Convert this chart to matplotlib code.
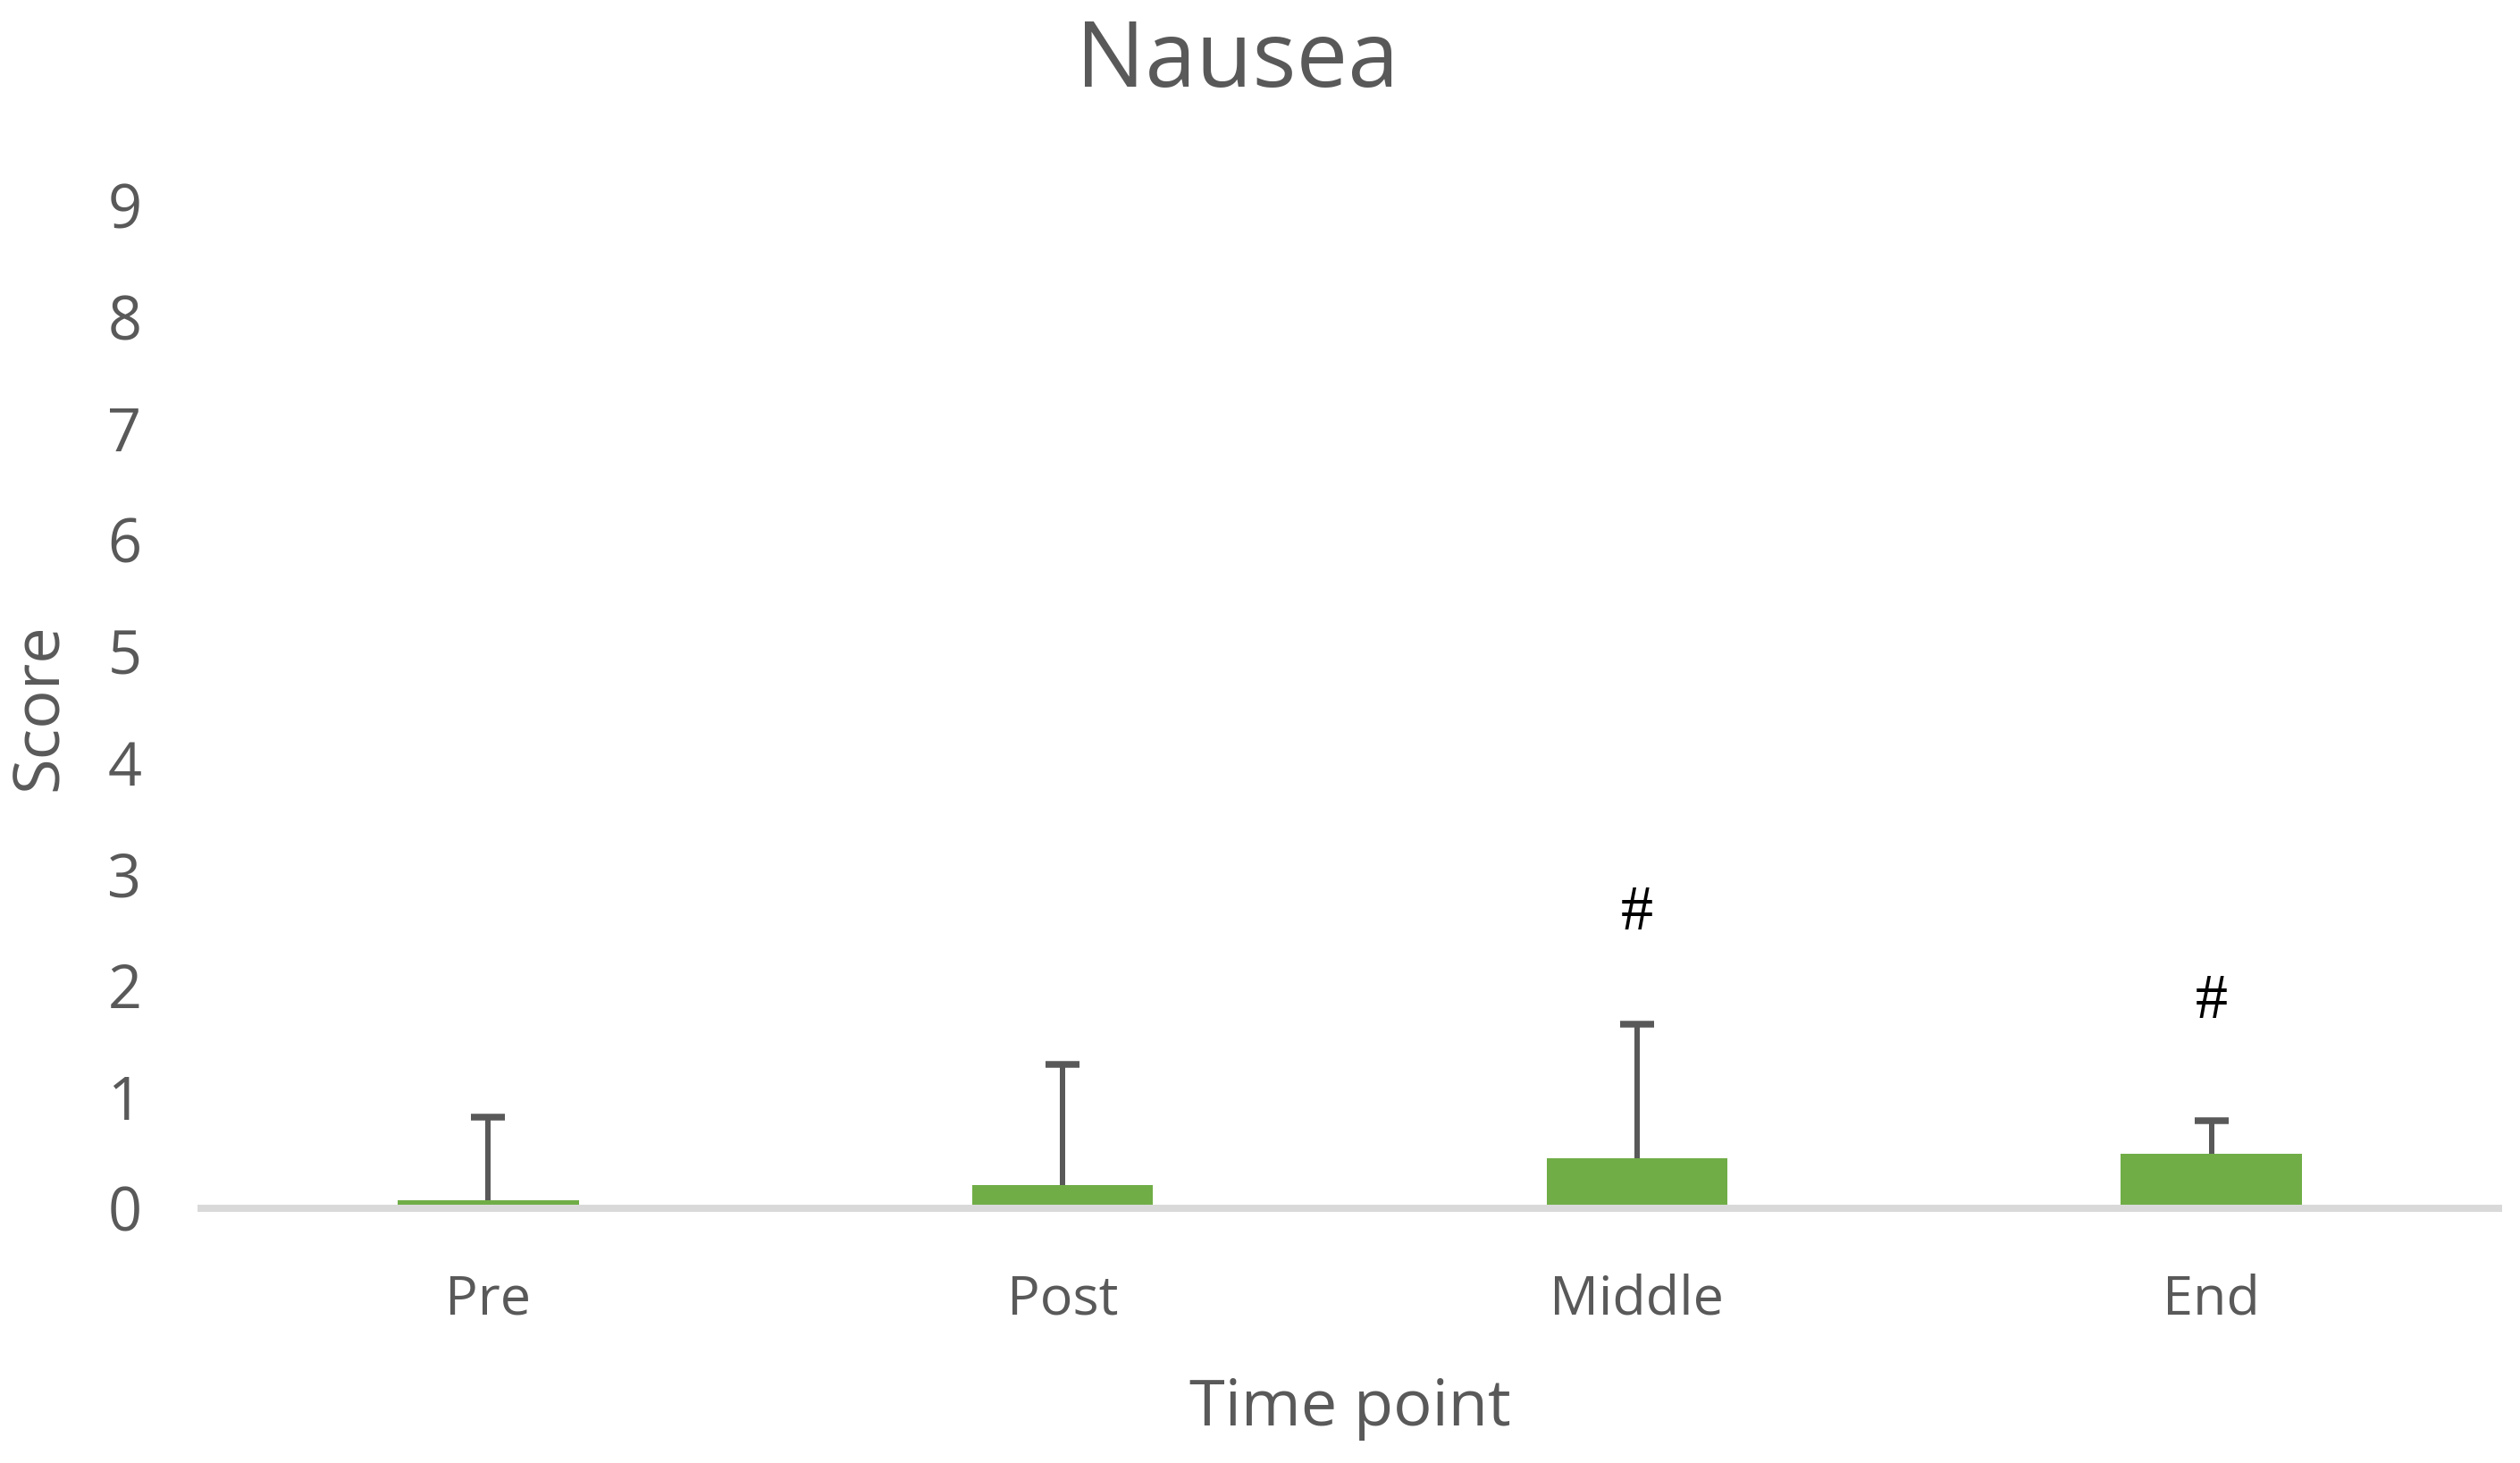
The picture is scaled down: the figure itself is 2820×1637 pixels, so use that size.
import matplotlib
matplotlib.use("Agg")
import matplotlib.pyplot as plt
import numpy as np

# ---- data ----
categories = ["Pre", "Post", "Middle", "End"]
means = [0.07, 0.21, 0.45, 0.49]
sd_upper = [0.75, 1.08, 1.20, 0.30]
hash_y = [None, None, 2.64, 1.85]
title = "Nausea"
xlabel = "Time point"
ylabel = "Score"
yticks = list(range(0, 10))

DPI = 200
W, H = 2820, 1637
plt.rcParams['font.family'] = ['Open Sans', 'DejaVu Sans']

fig = plt.figure(figsize=(W / DPI, H / DPI), dpi=DPI)
ax = fig.add_axes([225 / W, 1 - 1352 / H, (2796 - 225) / W, (1352 - 230) / H])

x = np.arange(len(categories))
grey = "#595959"
ax.bar(x, means, width=0.315, color="#70AD47", zorder=1)
eb = ax.errorbar(x, means, yerr=[np.zeros(len(means)), sd_upper], fmt='none',
                 ecolor=grey, elinewidth=2.16, capsize=6.8, capthick=2.7, zorder=2)
# hide the lower caps (only upper error bars in reference)
caps = eb[1]
if len(caps) >= 2:
    caps[0].set_visible(False)

for xi, hy in zip(x, hash_y):
    if hy is not None:
        ax.text(xi, hy, "#", ha='center', va='center', fontsize=26,
                family='Liberation Serif', color='black')

ax.set_xlim(-0.5, len(categories) - 0.5)
ax.set_ylim(0, 9)
ax.set_yticks(yticks)
ax.set_xticks(x)
ax.set_xticklabels(categories)

for s in ['top', 'right', 'left']:
    ax.spines[s].set_visible(False)
ax.spines['bottom'].set_color("#D9D9D9")
ax.spines['bottom'].set_linewidth(2.88)
ax.spines['bottom'].set_zorder(3)

ax.tick_params(axis='y', length=0, pad=24, labelsize=24, labelcolor=grey)
ax.tick_params(axis='x', length=0, pad=26, labelsize=22, labelcolor=grey)

ax.set_xlabel(xlabel, fontsize=26, color=grey, va='center')
ax.xaxis.set_label_coords(0.5, (1352 - 1576) / 1122)
ax.set_ylabel(ylabel, fontsize=26, color=grey, va='center')
ax.yaxis.set_label_coords((45 - 225) / 2571, 0.5)

fig.text(1385 / W, 1 - 97 / H, title, ha='center', va='baseline',
         fontsize=37, color=grey)

fig.savefig("out.png", dpi=DPI, facecolor='white')
